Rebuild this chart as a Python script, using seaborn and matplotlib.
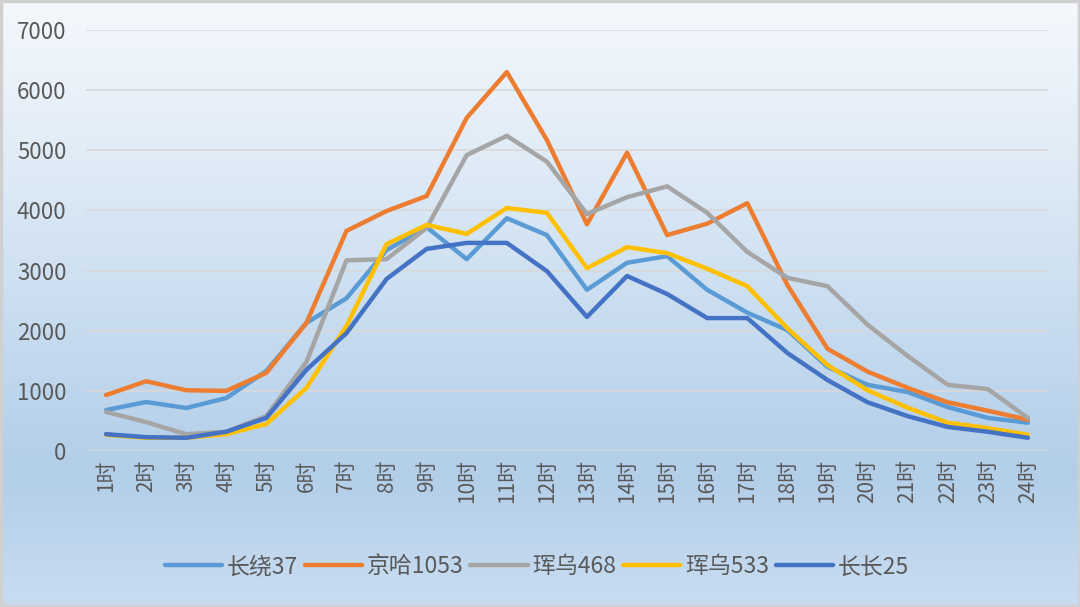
import numpy as np
import pandas as pd
import seaborn as sns
import matplotlib.pyplot as plt
from matplotlib.colors import LinearSegmentedColormap

hours = [f"{i}时" for i in range(1, 25)]
series_names = ["长绕37", "京哈1053", "珲乌468", "珲乌533", "长长25"]
colors = ["#5B9BD5", "#ED7D31", "#A5A5A5", "#FFC000", "#4472C4"]

changrao37 = [680, 815, 715, 880, 1330, 2130, 2540, 3340, 3720, 3190, 3870, 3590,
              2680, 3130, 3240, 2680, 2300, 2010, 1400, 1100, 980, 730, 550, 470]
jingha1053 = [930, 1160, 1010, 1000, 1300, 2130, 3660, 3990, 4240, 5540, 6300, 5170,
              3770, 4960, 3590, 3780, 4120, 2760, 1700, 1320, 1050, 810, 670, 520]
hunwu468 = [650, 480, 280, 320, 580, 1480, 3170, 3190, 3710, 4920, 5240, 4810,
            3940, 4220, 4400, 3960, 3310, 2880, 2740, 2100, 1580, 1100, 1030, 550]
hunwu533 = [270, 220, 220, 280, 450, 1050, 2080, 3440, 3760, 3610, 4040, 3960,
            3040, 3390, 3290, 3030, 2740, 2040, 1430, 1010, 720, 470, 380, 270]
changchang25 = [280, 230, 220, 320, 550, 1350, 1960, 2860, 3360, 3460, 3460, 2990,
                2230, 2910, 2610, 2210, 2210, 1630, 1180, 810, 580, 400, 320, 220]

df = pd.DataFrame({"hour": hours,
                   "长绕37": changrao37,
                   "京哈1053": jingha1053,
                   "珲乌468": hunwu468,
                   "珲乌533": hunwu533,
                   "长长25": changchang25})
long_df = df.melt(id_vars="hour", var_name="route", value_name="flow")

sns.set_theme(style="white")
plt.rcParams['font.family'] = ['Noto Sans CJK SC', 'DejaVu Sans']

fig = plt.figure(figsize=(10.8, 6.07), dpi=100)

# background gradient
bg = fig.add_axes([0, 0, 1, 1], zorder=0)
cmap = LinearSegmentedColormap.from_list(
    "bg", [(0, "#f4f8fc"), (0.25, "#e1ecf7"), (0.78, "#b2cee9"), (1.0, "#c9ddf1")])
grad = np.linspace(0, 1, 256).reshape(-1, 1)
bg.imshow(grad, aspect="auto", cmap=cmap, extent=[0, 1, 0, 1], origin="upper")
bg.set_xlim(0, 1)
bg.set_ylim(0, 1)
bg.axis("off")
bg.add_patch(plt.Rectangle((0.001, 0.002), 0.998, 0.996, fill=False,
                           edgecolor="#d0d0d0", linewidth=2.5, transform=bg.transAxes))

ax = fig.add_axes([0.0796, 0.257, 0.8907, 0.6936], zorder=1)
ax.patch.set_alpha(0)

sns.lineplot(data=long_df, x="hour", y="flow", hue="route", hue_order=series_names,
             palette=colors, linewidth=3.2, ax=ax, sort=False)

ax.set_ylim(0, 7000)
ax.set_xlim(-0.5, 23.5)
ax.set_yticks(range(0, 7001, 1000))
ax.yaxis.grid(True, color="#d9d9d9", linewidth=1.2)
ax.set_axisbelow(True)
for s in ax.spines.values():
    s.set_visible(False)
ax.set_xlabel("")
ax.set_ylabel("")
ax.tick_params(axis="both", length=0, colors="#595959")
ax.tick_params(axis="y", labelsize=16, pad=14)
ax.tick_params(axis="x", labelsize=15, pad=6)
plt.setp(ax.get_xticklabels(), rotation=90)

handles, labels = ax.get_legend_handles_labels()
leg = ax.legend(handles, labels, loc="center", ncol=5, frameon=False, fontsize=16.5,
                handlelength=2.5, handletextpad=0.2, columnspacing=0.3,
                labelcolor="#595959")
leg.set_bbox_to_anchor((0.497, 0.066), transform=fig.transFigure)

fig.savefig("out.png", dpi=100)
